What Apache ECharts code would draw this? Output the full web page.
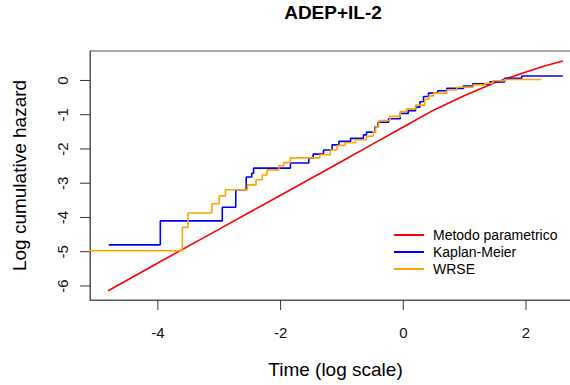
<!DOCTYPE html>
<html>
<head>
<meta charset="utf-8">
<script src="https://cdn.jsdelivr.net/npm/echarts@6/dist/echarts.min.js"></script>
<style>html,body{margin:0;padding:0;background:#fff}#c{width:570px;height:385px}</style>
</head>
<body>
<div id="c"></div>
<script>
// ---- data ----
const xTicks = [-4, -2, 0, 2];
const yTicks = [-6, -5, -4, -3, -2, -1, 0];

const paramX = [-4.81, -4, -3, -2, -1, -0.5, 0, 0.5, 1, 1.5, 2, 2.3, 2.6];
const paramY = [-6.14, -5.33, -4.34, -3.35, -2.36, -1.86, -1.36, -0.86, -0.44, -0.06, 0.25, 0.42, 0.57];

const kmX = [-4.80, -3.96, -2.95, -2.73, -2.56, -2.47, -2.44, -1.84, -1.54, -1.47, -1.30, -1.16, -1.05, -0.86, -0.65, -0.60, -0.46, -0.41, -0.24, -0.05, 0.08, 0.20, 0.27, 0.33, 0.41, 0.56, 0.71, 0.98, 1.13, 1.41, 1.65, 1.93, 2.60];
const kmY = [-4.80, -4.10, -3.70, -3.19, -2.82, -2.71, -2.56, -2.41, -2.27, -2.15, -2.03, -1.88, -1.78, -1.69, -1.59, -1.51, -1.35, -1.22, -1.12, -0.96, -0.88, -0.78, -0.62, -0.47, -0.37, -0.30, -0.23, -0.16, -0.10, -0.04, 0.06, 0.13, 0.13];

const wrseX = [-5.3, -3.60, -3.51, -3.12, -3.00, -2.90, -2.54, -2.40, -2.30, -2.22, -2.03, -1.95, -1.84, -1.36, -1.19, -1.08, -0.95, -0.78, -0.60, -0.49, -0.45, -0.40, -0.22, -0.05, 0.05, 0.20, 0.35, 0.42, 0.49, 0.71, 0.87, 1.14, 1.33, 1.46, 1.65, 2.25];
const wrseY = [-4.97, -4.29, -3.87, -3.60, -3.37, -3.19, -3.05, -2.90, -2.76, -2.61, -2.49, -2.40, -2.26, -2.17, -2.03, -1.90, -1.82, -1.73, -1.63, -1.50, -1.35, -1.17, -1.05, -0.91, -0.83, -0.72, -0.55, -0.45, -0.37, -0.28, -0.20, -0.13, -0.08, -0.01, 0.03, 0.03];

const seriesNames = ['Metodo parametrico', 'Kaplan-Meier', 'WRSE'];
const seriesColors = ['#ff0000', '#0000ff', '#ffa500'];

const X_MIN = -5.106, X_MAX = 2.896, Y_MIN = -6.41, Y_MAX = 0.86;
const TICK_LEN = 10;

const zip = (xs, ys) => xs.map((x, i) => [x, ys[i]]);
const FONT = "'Liberation Sans', Arial, Helvetica, sans-serif";

const chart = echarts.init(document.getElementById('c'), null, {renderer: 'svg'});
chart.setOption({
  animation: false,
  backgroundColor: '#fff',
  title: {
    text: 'ADEP+IL-2',
    left: 328, top: -2, textAlign: 'center',
    textStyle: {fontFamily: FONT, fontSize: 19, fontWeight: 'bold', color: '#000'}
  },
  legend: {
    orient: 'vertical', left: 388, top: 223,
    itemWidth: 30, itemHeight: 14, itemGap: 3,
    data: seriesNames,
    itemStyle: {opacity: 0},
    lineStyle: {width: 2},
    textStyle: {fontFamily: FONT, fontSize: 14, color: '#000', padding: [0, 0, 0, 4]}
  },
  grid: {
    left: 90, top: 51, width: 491, height: 249,
    show: true, borderColor: '#555', borderWidth: 1,
    outerBoundsMode: 'none'
  },
  xAxis: {
    type: 'value', min: X_MIN, max: X_MAX, position: 'bottom',
    name: 'Time (log scale)', nameLocation: 'middle', nameGap: 60,
    nameTextStyle: {fontFamily: FONT, fontSize: 19, color: '#000'},
    axisLine: {show: true, onZero: false, lineStyle: {color: '#555', width: 1}},
    splitLine: {show: false},
    axisTick: {show: false},
    axisLabel: {customValues: xTicks, margin: 25, fontFamily: FONT, fontSize: 15, color: '#111'}
  },
  yAxis: {
    type: 'value', min: Y_MIN, max: Y_MAX, position: 'left',
    name: 'Log cumulative hazard', nameLocation: 'middle', nameGap: 61, nameRotate: 90,
    nameTextStyle: {fontFamily: FONT, fontSize: 19, color: '#000'},
    axisLine: {show: true, onZero: false, lineStyle: {color: '#555', width: 1}},
    splitLine: {show: false},
    axisTick: {show: false},
    axisLabel: {customValues: yTicks, rotate: 90, margin: 20, fontFamily: FONT, fontSize: 15, color: '#111'}
  },
  series: [
    {
      name: seriesNames[0], type: 'line', data: zip(paramX, paramY),
      smooth: false, symbol: 'none',
      lineStyle: {color: seriesColors[0], width: 1.6}, itemStyle: {color: seriesColors[0]}
    },
    {
      name: seriesNames[1], type: 'line', data: zip(kmX, kmY), step: 'end',
      symbol: 'none',
      lineStyle: {color: seriesColors[1], width: 1.6}, itemStyle: {color: seriesColors[1]}
    },
    {
      name: seriesNames[2], type: 'line', data: zip(wrseX, wrseY), step: 'end',
      symbol: 'none',
      lineStyle: {color: seriesColors[2], width: 1.6}, itemStyle: {color: seriesColors[2]}
    },
    {
      name: 'xticks', type: 'custom', clip: false, silent: true,
      data: xTicks.map(v => [v, Y_MIN]),
      renderItem: (params, api) => {
        const p = api.coord([api.value(0), api.value(1)]);
        return {type: 'line', shape: {x1: p[0], y1: p[1], x2: p[0], y2: p[1] + TICK_LEN},
                style: {stroke: '#333', lineWidth: 1}};
      }
    },
    {
      name: 'yticks', type: 'custom', clip: false, silent: true,
      data: yTicks.map(v => [X_MIN, v]),
      renderItem: (params, api) => {
        const p = api.coord([api.value(0), api.value(1)]);
        return {type: 'line', shape: {x1: p[0], y1: p[1], x2: p[0] - TICK_LEN, y2: p[1]},
                style: {stroke: '#333', lineWidth: 1}};
      }
    }
  ]
});
</script>
</body>
</html>
